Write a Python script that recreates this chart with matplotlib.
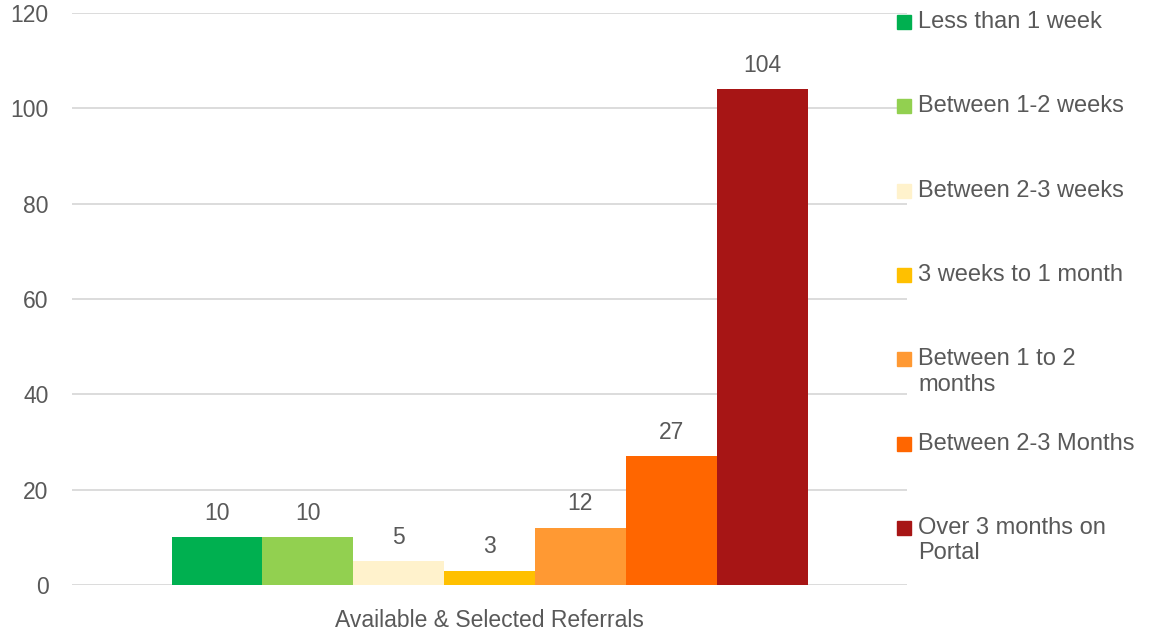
import matplotlib
matplotlib.use("Agg")
import matplotlib.pyplot as plt
from matplotlib.patches import Rectangle

categories = ["Less than 1 week", "Between 1-2 weeks", "Between 2-3 weeks",
              "3 weeks to 1 month", "Between 1 to 2\nmonths",
              "Between 2-3 Months", "Over 3 months on\nPortal"]
values = [10, 10, 5, 3, 12, 27, 104]
colors = ["#00B050", "#92D050", "#FFF2CC", "#FFC000", "#FF9933", "#FF6600", "#A71515"]
group_label = "Available & Selected Referrals"
yticks = [0, 20, 40, 60, 80, 100, 120]

txt = "#595959"
fs = 16.5
plt.rcParams['font.family'] = ['Liberation Sans', 'DejaVu Sans']

fig = plt.figure(figsize=(11.5, 6.3), dpi=100)
W, H = 1150, 630
# axes box in pixels: x 72..907, y 13..585
ax = fig.add_axes([72 / W, 1 - 585 / H, (907 - 72) / W, (585 - 13) / H])

n = len(values)
bw = 636 / 835 / n
start = -bw * n / 2
for i, (v, c) in enumerate(zip(values, colors)):
    x = start + bw * (i + 0.5)
    ax.bar(x, v, width=bw, color=c, zorder=3)
    ax.annotate(str(v), (x, v), xytext=(0, 9), textcoords="offset points",
                ha="center", va="bottom", fontsize=fs, color=txt)

ax.set_xlim(-0.5, 0.5)
ax.set_ylim(0, 120)
ax.set_yticks(yticks)
ax.set_xticks([0])
ax.set_xticklabels([group_label])
ax.tick_params(length=0, labelsize=fs, colors=txt)
ax.tick_params(axis="y", pad=17)
ax.tick_params(axis="x", pad=17)
ax.grid(axis="y", color="#D9D9D9", linewidth=1.3, zorder=0)
for s in ax.spines.values():
    s.set_visible(False)

# legend on the right
for i, (lab, c) in enumerate(zip(categories, colors)):
    yc = 22 + i * 84.3
    fig.patches.append(Rectangle((897 / W, 1 - (yc + 7) / H), 14 / W, 14 / H,
                                 transform=fig.transFigure, color=c, figure=fig))
    fig.text(918 / W, 1 - (yc - 11) / H, lab, ha="left", va="top",
             fontsize=17, color=txt, linespacing=1.2)

fig.savefig("out.png", dpi=100)
